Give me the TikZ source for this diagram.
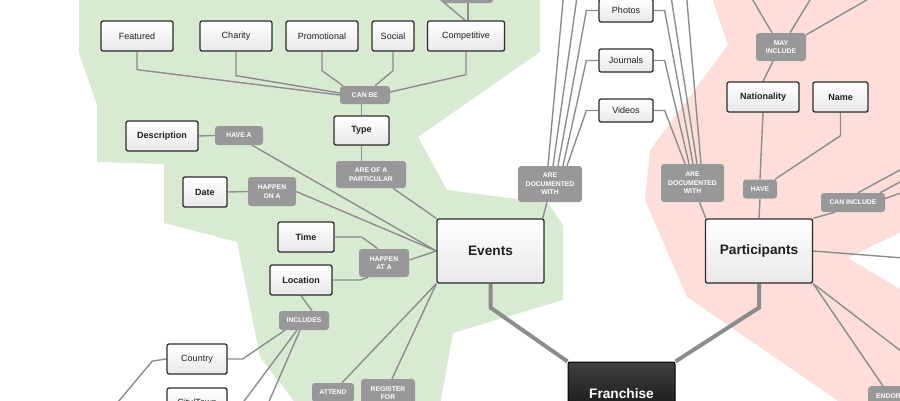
\documentclass[tikz,border=0pt]{standalone}
\usepackage{fontspec}
\setmainfont{Liberation Sans}
\usetikzlibrary{shadows,calc}
\pgfdeclarelayer{bg}
\pgfsetlayers{bg,main}
\definecolor{greenbg}{RGB}{217,234,211}
\definecolor{pinkbg}{RGB}{253,222,217}
\definecolor{lblgray}{RGB}{152,152,152}
\definecolor{linegray}{RGB}{140,140,140}
\definecolor{boxline}{RGB}{45,45,45}
\begin{document}
\begin{tikzpicture}[x=1pt,y=-1pt,
 wh/.style 2 args={minimum width=#1pt, minimum height=#2pt},
 box/.style={draw=boxline, line width=1.3pt, rounded corners=2pt, top color=white, bottom color=black!9, inner sep=0pt, font=\fontsize{9}{10}\selectfont, text=black!88, drop shadow={opacity=0.18,shadow xshift=0.8pt,shadow yshift=-0.8pt}},
 bbox/.style={box, font=\fontsize{9}{10}\selectfont\bfseries},
 big/.style={box, font=\fontsize{13.7}{15}\selectfont\bfseries, minimum width=107pt, minimum height=64pt},
 franchise/.style={draw=black, line width=1pt, rounded corners=2pt, top color=black!75, bottom color=black!95, text=white, font=\fontsize{13.7}{15}\selectfont\bfseries, minimum width=107pt, minimum height=64pt, inner sep=0pt},
 lbl/.style={fill=lblgray, rounded corners=3pt, text=white, font=\fontsize{6.8}{8.6}\selectfont\bfseries, align=center, inner sep=0pt},
 conn/.style={draw=linegray, line width=1.4pt},
 thickconn/.style={draw=linegray, line width=4pt},
]
\useasboundingbox (0,0) rectangle (900,400);
\clip (0,0) rectangle (900,400);

% nodes
\node[box, wh={72}{30}] (feat) at (137,36) {Featured};
\node[box, wh={72}{30}] (char) at (236,36) {Charity};
\node[box, wh={72}{30}] (promo) at (322,36) {Promotional};
\node[box, wh={42}{30}] (social) at (393,36) {Social};
\node[box, wh={77}{30}] (compet) at (466,36) {Competitive};
\node[lbl, wh={50}{20}] (toplbl) at (468,-7) {};
\node[lbl, wh={50}{18}] (canbe) at (365,95) {CAN BE};
\node[bbox, wh={55}{29}] (type) at (361.5,130.5) {Type};
\node[lbl, wh={70}{27}] (areof) at (371,174.5) {ARE OF A\\PARTICULAR};
\node[bbox, wh={72}{30}] (desc) at (162,136) {Description};
\node[lbl, wh={48}{19}] (havea) at (239,135.5) {HAVE A};
\node[bbox, wh={44}{30}] (date) at (205,192) {Date};
\node[lbl, wh={48}{29}] (happenon) at (272,191.5) {HAPPEN\\ON A};
\node[bbox, wh={56}{30}] (time) at (306,237) {Time};
\node[bbox, wh={62}{30}] (loc) at (301,280) {Location};
\node[lbl, wh={50}{28}] (happenat) at (384,263) {HAPPEN\\AT A};
\node[lbl, wh={50}{19}] (incl) at (304,320.5) {INCLUDES};
\node[box, wh={60}{30}] (country) at (197,359) {Country};
\node[box, wh={60}{30}] (city) at (197,403) {City/Town};
\node[big] (events) at (490.5,251) {Events};
\node[lbl, wh={42}{19}] (attend) at (333,392.5) {ATTEND};
\node[lbl, wh={54}{28}] (register) at (388,393) {REGISTER\\FOR};
\node[franchise] (fr) at (621.5,394) {Franchise};
\node[big] (part) at (759,251) {Participants};
\node[box, wh={54}{23}] (photos) at (626,10.5) {Photos};
\node[box, wh={54}{23}] (journals) at (626,60.5) {Journals};
\node[box, wh={54}{23}] (videos) at (626,110.5) {Videos};
\node[lbl, wh={64}{36}] (adw1) at (550,184) {ARE\\DOCUMENTED\\WITH};
\node[lbl, wh={63}{38}] (adw2) at (692.5,183) {ARE\\DOCUMENTED\\WITH};
\node[lbl, wh={50}{28}] (mayinc) at (781,47) {MAY\\INCLUDE};
\node[bbox, wh={72}{30}] (nation) at (763,97) {Nationality};
\node[bbox, wh={55}{30}] (name) at (840.5,97) {Name};
\node[lbl, wh={34}{19}] (have) at (760,189) {HAVE};
\node[lbl, wh={64}{19}] (caninc) at (853,202.5) {CAN INCLUDE};
\node[lbl, anchor=north west, inner xsep=8pt, minimum height=19pt] (endorse) at (868,386) {ENDORSE};

\begin{pgfonlayer}{bg}
% regions
\fill[greenbg] (79,-5) -- (540,-5) -- (540,52) -- (418,137) -- (447,190) -- (548,203) -- (563,225) -- (563,300) -- (453,333) -- (440,405) -- (297,405) -- (260,357) -- (237,242) -- (164,223) -- (164,164) -- (97,162) -- (97,105) -- (79,53) -- cycle;
\fill[pinkbg] (711,-5) -- (905,-5) -- (905,230) -- (848,258) -- (905,292) -- (905,405) -- (844,405) -- (687,297) -- (645,200) -- (650,150) -- (728,45) -- cycle;

% connectors, Events side
\draw[conn] (toplbl.south) -- (toplbl.south |- compet.north);
\draw[conn] (434,-6) -- ([xshift=-1pt]compet.north);
\draw[conn] (feat.south) -- ++(0,18) -- (canbe.west);
\draw[conn] (char.south) -- ++(0,24) -- ([yshift=2pt]canbe.west);
\draw[conn] (promo.south) -- ++(0,19) -- ([xshift=-22pt]canbe.north);
\draw[conn] (social.south) -- ++(0,19) -- ([xshift=10pt]canbe.north);
\draw[conn] (compet.south) -- ++(0,23) -- ([yshift=3pt]canbe.east);
\draw[conn] (type.north) -- (type.north |- canbe.south);
\draw[conn] (type.south) -- (type.south |- areof.north);
\draw[conn] ([xshift=22pt]areof.south) -- (events.north west);
\draw[conn] (desc.east) -- (havea.west);
\draw[conn] ([xshift=13pt]havea.south) -- (events.west);
\draw[conn] (date.east) -- (happenon.west);
\draw[conn] (happenon.east) -- (events.west);
\draw[conn] (time.east) -- ++(27,0) -- ([xshift=-6pt]happenat.north);
\draw[conn] (loc.east) -- ++(28,0) -- ([xshift=-16pt]happenat.south);
\draw[conn] ([yshift=3pt]happenat.east) -- (events.west);
\draw[conn] (loc.south) -- ([xshift=8pt]incl.north);
\draw[conn] (country.east) -- ++(15,0) -- ([xshift=-19pt]incl.south);
\draw[conn] (city.east) -- ++(15,0) -- ([xshift=-7pt]incl.south);
\coordinate (offa) at (261,420);
\coordinate (offb) at (103,420);
\draw[conn] ([xshift=-4pt]incl.south) -- (offa);
\draw[conn] (country.west) -- ++(-14,2) -- (offb);
\draw[conn] (events.south west) -- ([xshift=9pt]attend.north);
\draw[conn] (events.south west) -- ([xshift=4pt]register.north);
\draw[thickconn] (events.south) -- ++(0,24) -- (fr.north west);
\draw[thickconn] (part.south) -- ++(0,24) -- (fr.north east);

% documented with
\draw[conn] ([xshift=-2pt]events.north east) -- ([xshift=-3pt]adw1.south);
\coordinate (t1) at (564,-10);
\coordinate (t2) at (578,-10);
\draw[conn] (t1) -- ([xshift=-2pt]adw1.north);
\draw[conn] (t2) -- ([xshift=3pt]adw1.north);
\draw[conn] (photos.west) -- ++(-12,0) -- ([xshift=8pt]adw1.north);
\draw[conn] (journals.west) -- ++(-12,0) -- ([xshift=13pt]adw1.north);
\draw[conn] (videos.west) -- ++(-12,0) -- ([xshift=17pt]adw1.north);
\coordinate (t3) at (670,-10);
\coordinate (t4) at (686,-10);
\draw[conn] (videos.east) -- ++(11,0) -- ([xshift=-7.5pt]adw2.north);
\draw[conn] (journals.east) -- ++(11,0) -- ([xshift=-3.5pt]adw2.north);
\draw[conn] (photos.east) -- ++(11,0) -- ([xshift=0.5pt]adw2.north);
\draw[conn] (t3) -- ([xshift=4.5pt]adw2.north);
\draw[conn] (t4) -- ([xshift=8.5pt]adw2.north);
\draw[conn] ([xshift=7pt]adw2.south) -- ([xshift=1pt]part.north west);

% participants side
\coordinate (m1) at (747,-10);
\coordinate (m2) at (816,-10);
\coordinate (m3) at (884,-10);
\draw[conn] (m1) -- ([xshift=-9pt]mayinc.north);
\draw[conn] (m2) -- ([xshift=9pt]mayinc.north);
\draw[conn] (m3) -- ([yshift=-2pt]mayinc.north east);
\draw[conn] ([xshift=-8pt]mayinc.south) -- (nation.north);
\draw[conn] (nation.south) -- (have.north);
\draw[conn] (name.south) -- ++(0,23) -- ([xshift=15pt]have.north);
\draw[conn] (have.south) -- (part.north);
\draw[conn] (part.north east) -- ([xshift=-18pt]caninc.south);
\coordinate (c1) at (910,164.5);
\coordinate (c2) at (910,176.5);
\coordinate (c3) at (910,189.7);
\coordinate (p1) at (910,258.5);
\coordinate (p2) at (910,358);
\draw[conn] ([xshift=5pt]caninc.north) -- (c1);
\draw[conn] ([xshift=27pt]caninc.north) -- (c2);
\draw[conn] ([yshift=4pt]caninc.east) -- (c3);
\draw[conn] (part.east) -- (p1);
\draw[conn] (part.south east) -- (p2);
\draw[conn] (part.south east) -- ([xshift=15pt]endorse.north west);
\end{pgfonlayer}
\end{tikzpicture}
\end{document}
